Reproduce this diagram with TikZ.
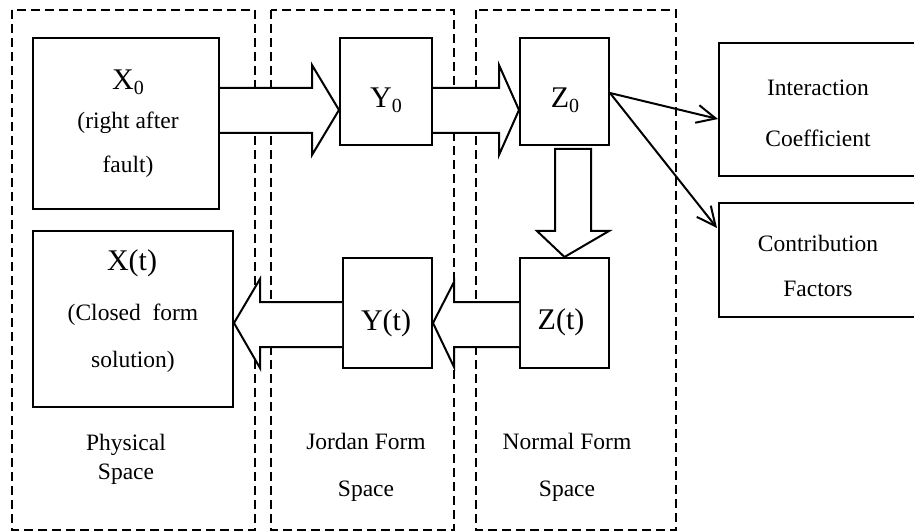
\documentclass[tikz,border=0pt]{standalone}
\usepackage{fontspec}
\setmainfont{Liberation Serif}
\usetikzlibrary{arrows.meta}
\tikzset{
  region/.style={draw, line width=2.2pt, dash pattern=on 9pt off 5pt},
  box/.style={draw, line width=2pt, fill=white, inner sep=0pt},
  txt/.style={inner sep=0pt, font=\fontsize{23.5}{26}\selectfont},
  sym/.style={inner sep=0pt, font=\fontsize{30}{32}\selectfont},
  block/.style={draw, line width=2pt, fill=white, line join=miter},
  thin/.style={draw, line width=2pt, -{Straight Barb[length=19pt,width=18pt,line width=2pt]}}
}
\newcommand{\subz}[1]{#1\raisebox{-5pt}{\fontsize{20}{22}\selectfont 0}}
\begin{document}
\begin{tikzpicture}[x=1pt,y=-1pt]
\useasboundingbox (0,0) rectangle (914,532);
% dashed regions
\draw[region] (12,10) rectangle (255,530);
\draw[region] (271,10) rectangle (454,530);
\draw[region] (476,10) rectangle (676,530);
% boxes
\node[box, minimum width=186pt, minimum height=171pt] (x0) at (126,123.5) {};
\node[box, minimum width=200pt, minimum height=176pt] (xt) at (133,319) {};
\node[box, minimum width=92pt, minimum height=107pt] (y0) at (386,91.5) {};
\node[box, minimum width=89pt, minimum height=110pt] (yt) at (387.5,313) {};
\node[box, minimum width=89pt, minimum height=107pt] (z0) at (564.5,91.5) {};
\node[box, minimum width=89pt, minimum height=110pt] (zt) at (564.5,313) {};
\begin{scope}
\clip (0,0) rectangle (914,532);
\node[box, minimum width=210pt, minimum height=133pt] (ic) at (824,109.5) {};
\node[box, minimum width=210pt, minimum height=114pt] (cf) at (824,260) {};
\end{scope}
% block arrows
\draw[block] (x0.east |- 0,88) -- (312,88) -- (312,65) -- (y0.west |- 0,110) -- (312,155) -- (312,133) -- (x0.east |- 0,133);
\draw[block] (y0.east |- 0,88) -- (499,88) -- (499,65) -- (z0.west |- 0,110) -- (499,155) -- (499,133) -- (y0.east |- 0,133);
\draw[block] (555,149) -- (555,231) -- (537,231) -- (zt.north) -- (609,231) -- (591,231) -- (591,149) -- cycle;
\draw[block] (zt.west |- 0,302) -- (454,302) -- (454,282) -- (yt.east |- 0,323) -- (454,367) -- (454,347) -- (zt.west |- 0,347);
\draw[block] (yt.west |- 0,302) -- (260,302) -- (260,279) -- (xt.east |- 0,323) -- (260,368) -- (260,347) -- (yt.west |- 0,347);
% thin arrows
\coordinate (zr) at (z0.east |- 0,93);
\draw[thin] (zr) -- (ic.west |- 0,119);
\draw[thin] (zr) -- (717,228);
% texts
\node[sym] (tx0) at (128,82) {\subz{X}};
\node[txt] (tx0a) at (128,123) {(right after};
\node[txt] (tx0b) at (128,167) {fault)};
\node[sym] (txt0) at (132,263) {X(t)};
\node[txt] (txta) at (133,315) {(Closed\ \ form};
\node[txt] (txtb) at (133,362) {solution)};
\node[sym] (ty0) at (386,100) {\subz{Y}};
\node[sym] (tyt) at (386,323) {Y(t)};
\node[sym] (tz0) at (565,100) {\subz{Z}};
\node[sym] (tzt) at (561,322) {Z(t)};
\node[txt] (tic1) at (818,88) {Interaction};
\node[txt] (tic2) at (818,138) {Coefficient};
\node[txt] (tcf1) at (818,243) {Contribution};
\node[txt] (tcf2) at (818,289) {Factors};
\node[txt] (tp1) at (126,445) {Physical};
\node[txt] (tp2) at (126,474) {Space};
\node[txt] (tj1) at (366,441) {Jordan Form};
\node[txt] (tj2) at (366,491) {Space};
\node[txt] (tn1) at (567,441) {Normal Form};
\node[txt] (tn2) at (567,491) {Space};
\end{tikzpicture}
\end{document}
